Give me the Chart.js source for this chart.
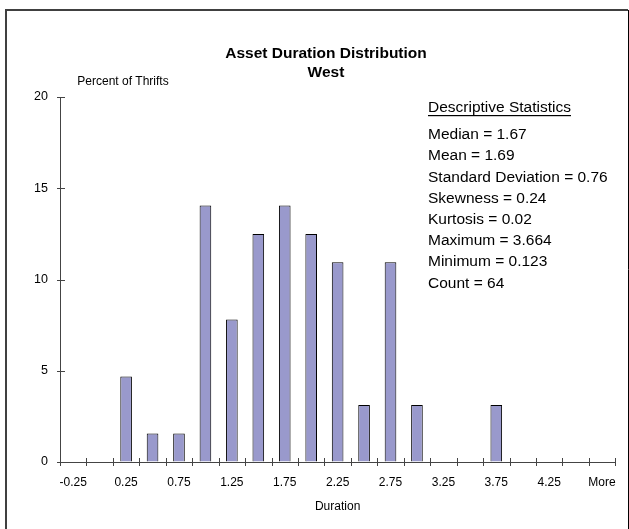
<!DOCTYPE html>
<html>
<head>
<meta charset="utf-8">
<script src="https://cdn.jsdelivr.net/npm/chart.js@4.4.1/dist/chart.umd.min.js"></script>
<style>
  html, body { margin: 0; padding: 0; background: #fff; }
  canvas { display: block; }
</style>
</head>
<body>
<canvas id="histChart" width="629" height="529"></canvas>
<script>
// histogram bins (upper edge of each bin) and share of thrifts in each, %
const durationBins = ["-0.25", "0", "0.25", "0.5", "0.75", "1", "1.25", "1.5", "1.75", "2",
  "2.25", "2.5", "2.75", "3", "3.25", "3.5", "3.75", "4", "4.25", "4.5", "More"];
const percentOfThrifts = [0, 0, 4.69, 1.56, 1.56, 14.06, 7.81, 12.5, 14.06, 12.5,
  10.94, 3.13, 10.94, 3.13, 0, 0, 3.13, 0, 0, 0, 0];
const yMin = 0, yMax = 20, yStep = 5;

const chartTitle = ["Asset Duration Distribution", "West"];
const yAxisLabel = "Percent of Thrifts";
const xAxisLabel = "Duration";
const statsHeading = "Descriptive Statistics";
const statLines = [
  "Median = 1.67",
  "Mean = 1.69",
  "Standard Deviation = 0.76",
  "Skewness = 0.24",
  "Kurtosis = 0.02",
  "Maximum = 3.664",
  "Minimum = 0.123",
  "Count = 64",
];

const FONT = "'Liberation Sans', Arial, sans-serif";
const AXIS_COLOR = "#444";

// frame, titles, stats box and the crossing tick marks
const decorations = {
  id: "decorations",
  beforeDraw(chart) {
    const ctx = chart.ctx;
    ctx.save();
    ctx.fillStyle = "#fff";
    ctx.fillRect(0, 0, chart.width, chart.height);
    ctx.restore();
  },
  afterDraw(chart) {
    const ctx = chart.ctx;
    const area = chart.chartArea;
    const xs = chart.scales.x;
    const ys = chart.scales.y;
    ctx.save();

    // outer frame (bottom edge is cut off in the original)
    ctx.strokeStyle = "#404040";
    ctx.lineWidth = 2;
    ctx.beginPath();
    ctx.moveTo(6, chart.height);
    ctx.lineTo(6, 10);
    ctx.lineTo(628, 10);
    ctx.stroke();
    ctx.strokeStyle = "#000";
    ctx.lineWidth = 1;
    ctx.beginPath();
    ctx.moveTo(628.5, 10);
    ctx.lineTo(628.5, chart.height);
    ctx.stroke();

    // tick marks crossing the axes
    ctx.strokeStyle = AXIS_COLOR;
    ctx.lineWidth = 1;
    ctx.beginPath();
    const n = xs.ticks.length;
    const step = (xs.right - xs.left) / n;
    for (let k = 0; k <= n; k++) {
      const x = Math.round(xs.left + k * step) + 0.5;
      ctx.moveTo(x, area.bottom - 4);
      ctx.lineTo(x, area.bottom + 4);
    }
    ys.ticks.forEach(t => {
      const y = Math.round(ys.getPixelForValue(t.value)) + 0.5;
      ctx.moveTo(area.left - 3, y);
      ctx.lineTo(area.left + 5, y);
    });
    ctx.stroke();

    // title
    ctx.fillStyle = "#000";
    ctx.textAlign = "center";
    ctx.textBaseline = "middle";
    ctx.font = "bold 15.5px " + FONT;
    ctx.fillText(chartTitle[0], 326, 54);
    ctx.fillText(chartTitle[1], 326, 73);

    // y axis caption
    ctx.font = "12px " + FONT;
    ctx.fillText(yAxisLabel, 123, 82);

    // descriptive statistics
    ctx.textAlign = "left";
    ctx.font = "15.5px " + FONT;
    ctx.fillText(statsHeading, 428, 108);
    const w = ctx.measureText(statsHeading).width;
    ctx.fillRect(428, 115, w, 1.2);
    statLines.forEach((s, i) => {
      ctx.fillText(s, 428, 135 + i * 21.2);
    });

    ctx.restore();
  }
};

function renderChart() {
  const ctx = document.getElementById("histChart").getContext("2d");
  new Chart(ctx, {
    type: "bar",
    data: {
      labels: durationBins,
      datasets: [{
        data: percentOfThrifts,
        backgroundColor: "#9999cc",
        borderColor: "#000",
        borderWidth: 1,
        borderSkipped: "bottom",
        barPercentage: 0.44,
        categoryPercentage: 1,
      }],
    },
    options: {
      responsive: false,
      animation: false,
      events: [],
      layout: { padding: { left: 0, right: 12, top: 97, bottom: 0 } },
      plugins: {
        legend: { display: false },
        title: { display: false },
        tooltip: { enabled: false },
      },
      scales: {
        x: {
          afterFit(scale) { scale.height = 67; },
          grid: { display: true, drawOnChartArea: false, drawTicks: false, color: AXIS_COLOR },
          border: { color: AXIS_COLOR, width: 1 },
          ticks: {
            autoSkip: false,
            maxRotation: 0,
            padding: 13,
            color: "#000",
            font: { family: FONT, size: 12 },
            callback: (v, i) => (i % 2 === 0 ? durationBins[i] : ""),
          },
          title: {
            display: true,
            text: xAxisLabel,
            color: "#000",
            font: { family: FONT, size: 12 },
            padding: { top: 0, bottom: 15 },
          },
        },
        y: {
          min: yMin,
          max: yMax,
          afterFit(scale) { scale.width = 60; },
          grid: { display: true, drawOnChartArea: false, drawTicks: false, color: AXIS_COLOR },
          border: { color: AXIS_COLOR, width: 1 },
          ticks: {
            stepSize: yStep,
            padding: 12,
            color: "#000",
            font: { family: FONT, size: 12.5 },
          },
        },
      },
    },
    plugins: [decorations],
  });
}

document.addEventListener("DOMContentLoaded", renderChart);
</script>
</body>
</html>
